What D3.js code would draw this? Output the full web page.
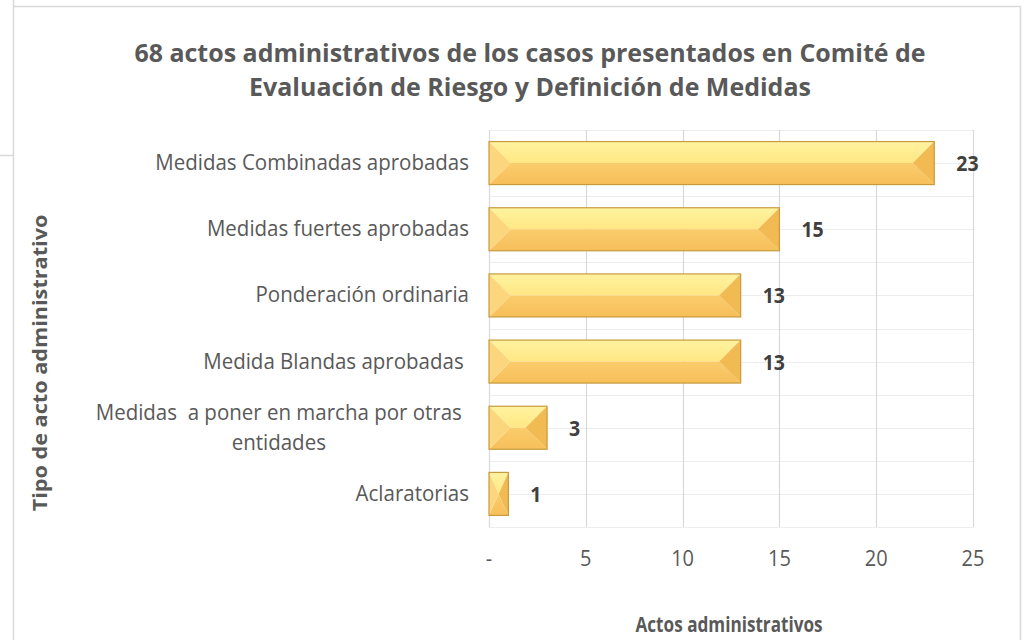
<!DOCTYPE html>
<html><head><meta charset="utf-8">
<script src="https://cdn.jsdelivr.net/npm/d3@7"></script>
<style>body{margin:0;background:#fff}svg{display:block}text{font-family:"Open Sans",sans-serif;white-space:pre}</style>
</head><body><svg id="c" width="1025" height="640"></svg>
<script>
const categories = ["Medidas Combinadas aprobadas","Medidas fuertes aprobadas","Ponderación ordinaria","Medida Blandas aprobadas ","Medidas  a poner en marcha por otras|entidades","Aclaratorias"];
const values = [23,15,13,13,3,1];
const tickValues = [0,5,10,15,20,25];
const tickLabels = ["-","5","10","15","20","25"];
const titleLines = ["68 actos administrativos de los casos presentados en Comité de","Evaluación de Riesgo y Definición de Medidas"];
const xTitle = "Actos administrativos";
const yTitle = "Tipo de acto administrativo";

const svg = d3.select("#c");
const L = 489, R = 973, T = 130, B = 527;
const SY = 1.06;
const x = d3.scaleLinear().domain([0,25]).range([L,R]);
const y = d3.scaleBand().domain(categories).range([T,B]).paddingInner(0.35).paddingOuter(0.175);

function txt(parent, px, py, s, opts){
  const sx = opts.sx || 1, sy = opts.sy || SY;
  return parent.append("text")
    .attr("transform", opts.rot ? `translate(${px},${py}) rotate(-90) scale(${sy},${sx})` : `translate(${px},${py}) scale(${sx},${sy})`)
    .attr("text-anchor", opts.anchor||"start").attr("font-size", opts.size)
    .attr("font-weight", opts.bold ? "bold" : "normal").attr("fill", opts.fill||"#595959").text(s);
}

// outer frame
svg.append("path").attr("d","M13.5,0 V640 M13.5,6.5 H1020.5 V640 M0,155.5 H13")
  .attr("fill","none").attr("stroke","#D9D9D9").attr("stroke-width",1.5);

const defs = svg.append("defs");
function grad(id, c1, c2){
  const g = defs.append("linearGradient").attr("id",id).attr("x1",0).attr("y1",0).attr("x2",0).attr("y2",1);
  g.append("stop").attr("offset","0%").attr("stop-color",c1);
  g.append("stop").attr("offset","100%").attr("stop-color",c2);
}
grad("gTop","#FFF3A0","#FFE783");
grad("gBot","#FBCC6C","#F6BF5A");

// gridlines
const hLines = d3.range(0,13).map(i=>T + i*(B-T)/12);
svg.append("g").selectAll("line").data(hLines).join("line")
  .attr("x1",L).attr("x2",R).attr("y1",d=>Math.round(d)+0.5).attr("y2",d=>Math.round(d)+0.5)
  .attr("stroke","#EDEDED").attr("stroke-width",1);
svg.append("g").selectAll("line").data(tickValues).join("line")
  .attr("x1",d=>Math.round(x(d))+0.5).attr("x2",d=>Math.round(x(d))+0.5).attr("y1",T).attr("y2",B)
  .attr("stroke","#D9D9D9").attr("stroke-width",1.2);

// bars (bevel)
const bars = svg.append("g").selectAll("g").data(categories.map((c,i)=>({c,v:values[i]}))).join("g");
bars.each(function(d){
  const g = d3.select(this);
  const x0 = x(0), x1 = x(d.v), y0 = y(d.c), h = y.bandwidth(), y1 = y0+h, ym = y0+h/2;
  const bv = Math.min(h/2, (x1-x0)/2);
  const bx0 = x0+bv, bx1 = x1-bv;
  g.append("polygon").attr("points",[[x0,y0],[x1,y0],[bx1,ym],[bx0,ym]].join(" ")).attr("fill","url(#gTop)");
  g.append("polygon").attr("points",[[x0,y1],[x1,y1],[bx1,ym],[bx0,ym]].join(" ")).attr("fill","url(#gBot)");
  g.append("polygon").attr("points",[[x0,y0],[bx0,ym],[x0,y1]].join(" ")).attr("fill","#FCD67C");
  g.append("polygon").attr("points",[[x1,y0],[bx1,ym],[x1,y1]].join(" ")).attr("fill","#F1BA52");
  g.append("rect").attr("x",x0).attr("y",y0).attr("width",x1-x0).attr("height",h)
    .attr("fill","none").attr("stroke","#C99A3E").attr("stroke-width",1.2);
  txt(g, x1+22, ym+8, d.v, {size:19.5, bold:true, fill:"#404040", sy:1.05});
});

// category labels
const cat = svg.append("g");
categories.forEach(c=>{
  const lines = c.split("|");
  const cy = y(c)+y.bandwidth()/2;
  if(lines.length===1){
    txt(cat, 469, cy+7, lines[0], {size:20.5, anchor:"end"});
  } else {
    const tmp = svg.append("text").attr("font-size",20.5).text(lines[0]);
    const w = tmp.node().getComputedTextLength(); tmp.remove();
    const cx = 462 - w/2;
    lines.forEach((ln,i)=> txt(cat, cx, cy-8+i*30, ln, {size:20.5, anchor:"middle"}));
  }
});

// x tick labels
const tg = svg.append("g");
tickValues.forEach((v,i)=> txt(tg, x(v), 566, tickLabels[i], {size:20, anchor:"middle"}));

// titles
titleLines.forEach((s,i)=> txt(svg, 530, 62+i*34, s, {size:24.5, bold:true, anchor:"middle", sx:1.02, sy:1}));
txt(svg, 729, 632, xTitle, {size:17.5, bold:true, anchor:"middle", sx:0.98, sy:1.25});
txt(svg, 47, 363, yTitle, {size:19.5, bold:true, anchor:"middle", rot:true, sy:1.11});
</script></body></html>
